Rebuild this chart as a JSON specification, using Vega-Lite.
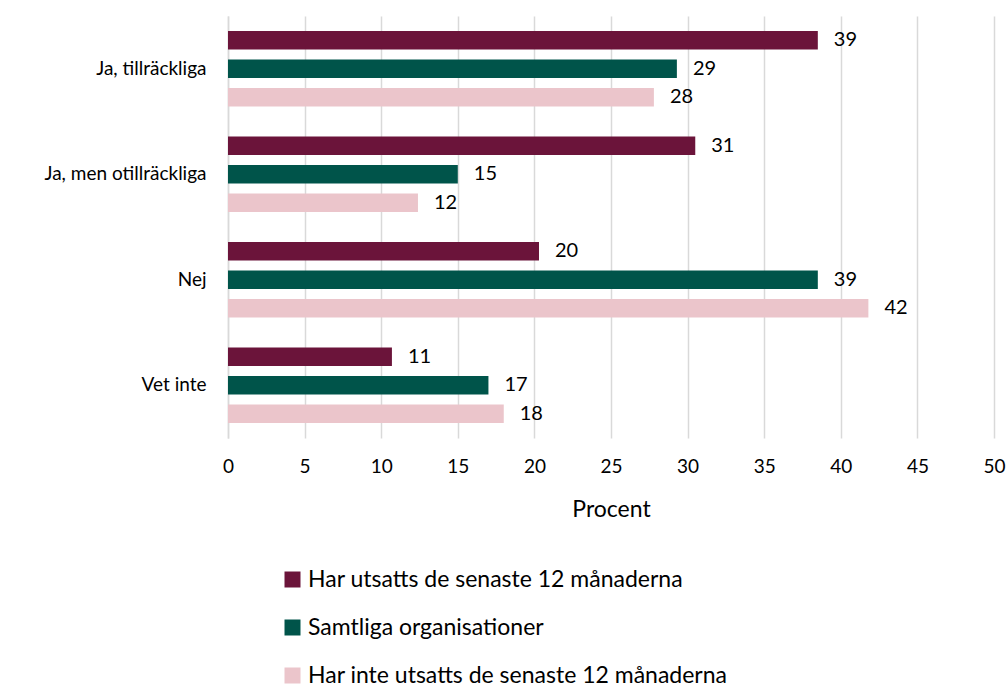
{
  "$schema": "https://vega.github.io/schema/vega-lite/v6.json",
  "width": 766,
  "height": 422,
  "autosize": {"type": "none"},
  "padding": {"left": 228, "top": 16, "right": 14, "bottom": 248},
  "background": "white",
  "config": {
    "font": "Lato",
    "view": {"stroke": null},
    "axis": {"labelFont": "Lato", "titleFont": "Lato"}
  },
  "data": {
    "values": [
      {"kategori": "Ja, tillräckliga", "grupp": "Har utsatts de senaste 12 månaderna", "varde": 38.5, "etikett": "39"},
      {"kategori": "Ja, tillräckliga", "grupp": "Samtliga organisationer", "varde": 29.3, "etikett": "29"},
      {"kategori": "Ja, tillräckliga", "grupp": "Har inte utsatts de senaste 12 månaderna", "varde": 27.8, "etikett": "28"},
      {"kategori": "Ja, men otillräckliga", "grupp": "Har utsatts de senaste 12 månaderna", "varde": 30.5, "etikett": "31"},
      {"kategori": "Ja, men otillräckliga", "grupp": "Samtliga organisationer", "varde": 15.0, "etikett": "15"},
      {"kategori": "Ja, men otillräckliga", "grupp": "Har inte utsatts de senaste 12 månaderna", "varde": 12.4, "etikett": "12"},
      {"kategori": "Nej", "grupp": "Har utsatts de senaste 12 månaderna", "varde": 20.3, "etikett": "20"},
      {"kategori": "Nej", "grupp": "Samtliga organisationer", "varde": 38.5, "etikett": "39"},
      {"kategori": "Nej", "grupp": "Har inte utsatts de senaste 12 månaderna", "varde": 41.8, "etikett": "42"},
      {"kategori": "Vet inte", "grupp": "Har utsatts de senaste 12 månaderna", "varde": 10.7, "etikett": "11"},
      {"kategori": "Vet inte", "grupp": "Samtliga organisationer", "varde": 17.0, "etikett": "17"},
      {"kategori": "Vet inte", "grupp": "Har inte utsatts de senaste 12 månaderna", "varde": 18.0, "etikett": "18"}
    ]
  },
  "encoding": {
    "y": {
      "field": "kategori",
      "type": "nominal",
      "sort": ["Ja, tillräckliga", "Ja, men otillräckliga", "Nej", "Vet inte"],
      "scale": {"paddingInner": 0, "paddingOuter": 0},
      "axis": {
        "title": null,
        "domain": true,
        "domainColor": "#d9d9d9",
        "domainWidth": 1.5,
        "ticks": false,
        "labelFontSize": 19,
        "labelColor": "#000000",
        "labelPadding": 22
      }
    },
    "yOffset": {
      "field": "grupp",
      "type": "nominal",
      "sort": ["Har utsatts de senaste 12 månaderna", "Samtliga organisationer", "Har inte utsatts de senaste 12 månaderna"],
      "scale": {"paddingInner": 0.35, "paddingOuter": 0.53}
    },
    "x": {
      "field": "varde",
      "type": "quantitative",
      "scale": {"domain": [0, 50], "nice": false},
      "axis": {
        "title": "Procent",
        "titleFontSize": 23,
        "titleFontWeight": "normal",
        "titleColor": "#000000",
        "titlePadding": 22,
        "values": [0, 5, 10, 15, 20, 25, 30, 35, 40, 45, 50],
        "grid": true,
        "gridColor": "#d9d9d9",
        "gridWidth": 1.5,
        "domain": false,
        "ticks": false,
        "labelFlush": false,
        "labelFontSize": 19,
        "labelColor": "#000000",
        "labelPadding": 19
      }
    }
  },
  "layer": [
    {
      "mark": {"type": "bar", "height": 18.5},
      "encoding": {
        "color": {
          "field": "grupp",
          "type": "nominal",
          "scale": {
            "domain": ["Har utsatts de senaste 12 månaderna", "Samtliga organisationer", "Har inte utsatts de senaste 12 månaderna"],
            "range": ["#6b143a", "#00544a", "#ebc5cb"]
          },
          "legend": {
            "title": null,
            "orient": "none",
            "legendX": 53,
            "legendY": 552,
            "direction": "vertical",
            "symbolType": "square",
            "symbolSize": 256,
            "symbolStrokeWidth": 0,
            "labelFontSize": 23,
            "labelColor": "#000000",
            "labelLimit": 700,
            "rowPadding": 24,
            "labelOffset": 4
          }
        }
      }
    },
    {
      "mark": {"type": "text", "align": "left", "baseline": "middle", "dx": 16, "fontSize": 20, "color": "#000000"},
      "encoding": {
        "text": {"field": "etikett", "type": "nominal"}
      }
    }
  ]
}
